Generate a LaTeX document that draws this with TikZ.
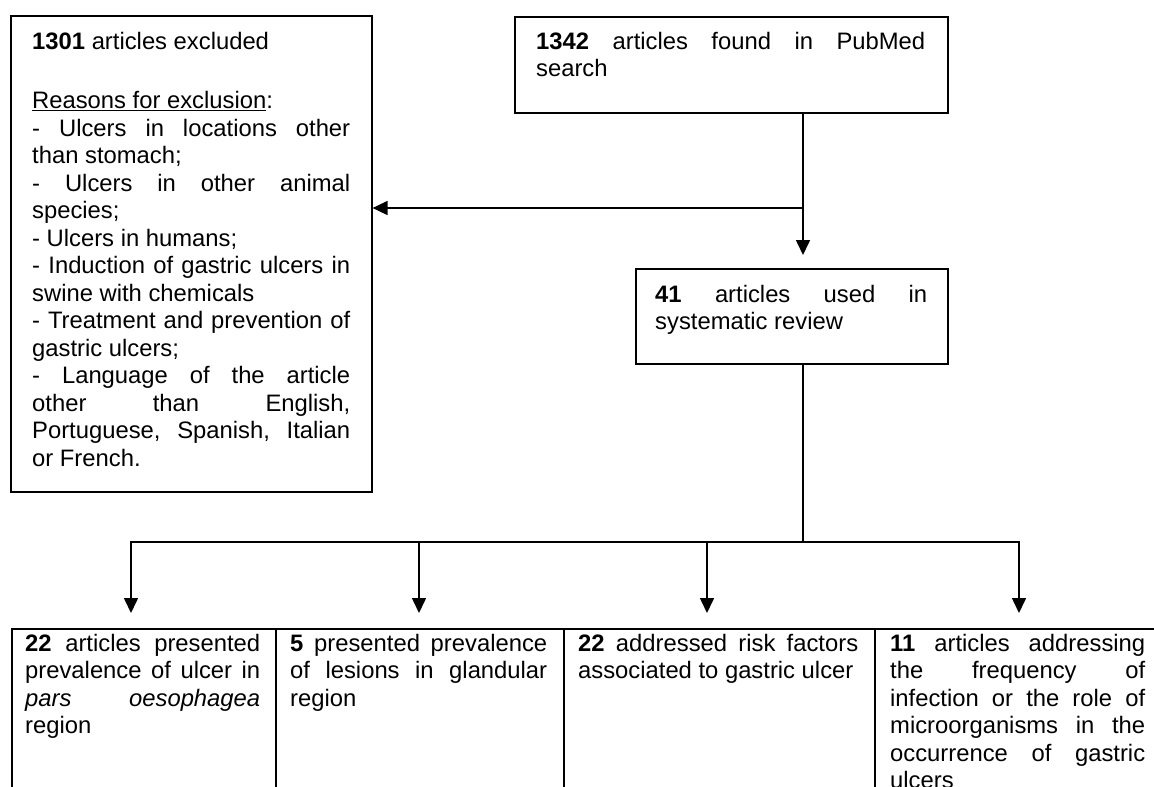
\documentclass[tikz,border=0pt]{standalone}
\usepackage{fontspec}
\setmainfont{Liberation Sans}
\usetikzlibrary{arrows.meta}
\newcommand{\jl}[1]{\makebox[\linewidth][s]{#1}}
\newcommand{\ulx}[1]{\setbox0\hbox{#1}\rlap{\rule[-2.6pt]{\wd0}{1.5pt}}\box0}
\newcommand{\bodyfont}{\fontsize{23.8}{27.5}\selectfont}
\tikzset{
  boxn/.style={draw, line width=1.6pt, rectangle, inner sep=0pt, anchor=north west},
  txt/.style={inner sep=0pt, anchor=base west, font=\bodyfont},
  conn/.style={line width=1.6pt},
  arr/.style={conn, -{Triangle[length=15pt,width=14pt]}}
}
\begin{document}
\begin{tikzpicture}[x=1pt,y=-1pt]
\useasboundingbox (0,0) rectangle (1154,787);
\fill[white] (0,0) rectangle (1154,787);
\begin{scope}
\clip (0,0) rectangle (1154,787);
% boxes
\node[boxn, minimum width=361pt, minimum height=476pt] (excl) at (10,15) {};
\node[boxn, minimum width=433pt, minimum height=96pt] (found) at (514,16) {};
\node[boxn, minimum width=312pt, minimum height=95pt] (used) at (635,268) {};
\node[boxn, minimum width=264pt, minimum height=200pt] (b1) at (11,628) {};
\node[boxn, minimum width=288pt, minimum height=200pt] (b2) at (275,628) {};
\node[boxn, minimum width=311pt, minimum height=200pt] (b3) at (563,628) {};
\node[boxn, minimum width=290pt, minimum height=200pt] (b4) at (874,628) {};
% texts
\node[txt] (excltxt) at ([xshift=22pt,yshift=-34.8pt]excl.north west) {\parbox[t]{318pt}{\bodyfont
\textbf{1301} articles excluded\\[31.5pt]
\ulx{Reasons for exclusion}:\\
\jl{- Ulcers in locations other}\\
than stomach;\\
\jl{- Ulcers in other animal}\\
species;\\
- Ulcers in humans;\\
\jl{- Induction of gastric ulcers in}\\
swine with chemicals\\
\jl{- Treatment and prevention of}\\
gastric ulcers;\\
\jl{- Language of the article}\\
\jl{other than English,}\\
\jl{Portuguese, Spanish, Italian}\\
or French.}};
\node[txt] (foundtxt) at ([xshift=22pt,yshift=-33.3pt]found.north west) {\parbox[t]{389pt}{\bodyfont
\jl{\textbf{1342} articles found in PubMed}\\
search}};
\node[txt] (usedtxt) at ([xshift=20pt,yshift=-34pt]used.north west) {\parbox[t]{272pt}{\bodyfont
\jl{\textbf{41} articles used in}\\
systematic review}};
\node[txt] (b1txt) at ([xshift=14pt,yshift=-23pt]b1.north west) {\parbox[t]{235pt}{\bodyfont
\jl{\textbf{22} articles presented}\\
\jl{prevalence of ulcer in}\\
\jl{\textit{pars} \textit{oesophagea}}\\
region}};
\node[txt] (b2txt) at ([xshift=15pt,yshift=-23pt]b2.north west) {\parbox[t]{257pt}{\bodyfont
\jl{\textbf{5} presented prevalence}\\
\jl{of lesions in glandular}\\
region}};
\node[txt] (b3txt) at ([xshift=15pt,yshift=-23pt]b3.north west) {\parbox[t]{280pt}{\bodyfont
\jl{\textbf{22} addressed risk factors}\\
associated to gastric ulcer}};
\node[txt] (b4txt) at ([xshift=16pt,yshift=-23pt]b4.north west) {\parbox[t]{255pt}{\bodyfont
\jl{\textbf{11} articles addressing}\\
\jl{the frequency of}\\
\jl{infection or the role of}\\
\jl{microorganisms in the}\\
\jl{occurrence of gastric}\\
ulcers}};
% junctions
\coordinate (j1) at (803,208);
\coordinate (j2) at (803,542);
\coordinate (h1) at (131,542);
\coordinate (h2) at (419,542);
\coordinate (h3) at (707,542);
\coordinate (h4) at (1019,542);
% connectors
\draw[conn] (found.south -| j1) -- (j1);
\draw[arr, shorten >=13pt] (j1) -- (j1 |- used.north);
\draw[arr] (j1) -- (excl.east |- j1);
\draw[conn] (used.south -| j2) -- (j2);
\draw[conn, line cap=rect] (h1) -- (h4);
\draw[arr, shorten >=15pt] (h1) -- (h1 |- b1.north);
\draw[arr, shorten >=15pt] (h2) -- (h2 |- b2.north);
\draw[arr, shorten >=15pt] (h3) -- (h3 |- b3.north);
\draw[arr, shorten >=15pt] (h4) -- (h4 |- b4.north);
\end{scope}
\end{tikzpicture}
\end{document}
